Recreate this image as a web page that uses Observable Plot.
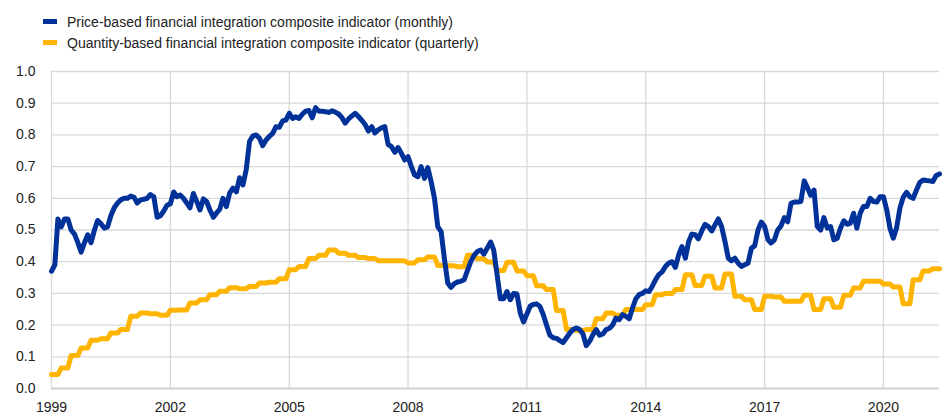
<!DOCTYPE html>
<html><head><meta charset="utf-8">
<script src="https://cdn.jsdelivr.net/npm/d3@7"></script>
<script src="https://cdn.jsdelivr.net/npm/@observablehq/plot@0.6"></script>
<style>
body{margin:0;background:#fff;font-family:Arial,"Liberation Sans",sans-serif;}
#legend{height:58px;box-sizing:border-box;padding-top:11px;padding-left:43px;font-size:14px;color:#222;}
.item{display:flex;align-items:center;height:21px;}
.sw{width:14px;height:5px;margin-right:10px;}
</style></head><body>
<div id="legend"></div><div id="chart"></div>
<script>
// Series names
const seriesNames = [
  "Price-based financial integration composite indicator (monthly)",
  "Quantity-based financial integration composite indicator (quarterly)"
];
const seriesColors = ["#003299", "#FFB400"];

// Price-based indicator, monthly, Jan 1999 - Jun 2021
const priceMonthly = [
  // 1999
  0.37, 0.39, 0.535, 0.51, 0.535, 0.535, 0.50, 0.487, 0.46, 0.43, 0.46, 0.485,
  // 2000
  0.46, 0.50, 0.53, 0.52, 0.506, 0.51, 0.545, 0.57, 0.585, 0.595, 0.60, 0.60,
  // 2001
  0.607, 0.603, 0.585, 0.595, 0.597, 0.60, 0.612, 0.605, 0.54, 0.545, 0.56, 0.578,
  // 2002
  0.583, 0.62, 0.605, 0.61, 0.60, 0.585, 0.57, 0.615, 0.59, 0.563, 0.598, 0.59,
  // 2003
  0.563, 0.54, 0.553, 0.565, 0.60, 0.574, 0.616, 0.632, 0.62, 0.665, 0.642, 0.69,
  // 2004
  0.78, 0.797, 0.80, 0.79, 0.766, 0.784, 0.795, 0.805, 0.826, 0.824, 0.844, 0.847,
  // 2005
  0.868, 0.852, 0.857, 0.852, 0.865, 0.875, 0.877, 0.854, 0.886, 0.875, 0.875, 0.873,
  // 2006
  0.871, 0.876, 0.872, 0.866, 0.855, 0.837, 0.85, 0.86, 0.868, 0.858, 0.846, 0.833,
  // 2007
  0.812, 0.826, 0.806, 0.816, 0.822, 0.826, 0.77, 0.763, 0.745, 0.76, 0.742, 0.721,
  // 2008
  0.731, 0.70, 0.674, 0.668, 0.70, 0.663, 0.697, 0.653, 0.60, 0.511, 0.495, 0.411,
  // 2009
  0.333, 0.319, 0.33, 0.336, 0.338, 0.343, 0.371, 0.40, 0.42, 0.432, 0.437, 0.424,
  // 2010
  0.443, 0.462, 0.437, 0.36, 0.283, 0.283, 0.306, 0.28, 0.30, 0.298, 0.238, 0.21,
  // 2011
  0.235, 0.26, 0.265, 0.267, 0.259, 0.233, 0.20, 0.168, 0.16, 0.158, 0.151, 0.145,
  // 2012
  0.16, 0.175, 0.186, 0.191, 0.186, 0.172, 0.135, 0.149, 0.17, 0.186, 0.168, 0.172,
  // 2013
  0.186, 0.19, 0.20, 0.222, 0.217, 0.233, 0.228, 0.22, 0.254, 0.283, 0.296, 0.30,
  // 2014
  0.308, 0.306, 0.322, 0.343, 0.359, 0.368, 0.385, 0.396, 0.40, 0.382, 0.422, 0.448,
  // 2015
  0.411, 0.464, 0.487, 0.485, 0.472, 0.497, 0.518, 0.511, 0.497, 0.516, 0.535, 0.511,
  // 2016
  0.464, 0.411, 0.403, 0.411, 0.396, 0.385, 0.39, 0.396, 0.443, 0.45, 0.50, 0.525,
  // 2017
  0.511, 0.469, 0.459, 0.469, 0.50, 0.513, 0.539, 0.526, 0.584, 0.588, 0.588, 0.59,
  // 2018
  0.655, 0.632, 0.61, 0.626, 0.511, 0.50, 0.539, 0.506, 0.511, 0.469, 0.474, 0.506,
  // 2019
  0.529, 0.518, 0.521, 0.553, 0.506, 0.553, 0.574, 0.574, 0.60, 0.59, 0.588, 0.605,
  // 2020
  0.605, 0.563, 0.506, 0.474, 0.506, 0.569, 0.603, 0.619, 0.605, 0.60, 0.626, 0.65,
  // 2021
  0.658, 0.656, 0.655, 0.653, 0.672, 0.677
];

// Quantity-based indicator, quarterly, 1999Q1 - 2021Q2
const quantityQuarterly = [
  0.044, 0.065, 0.104, 0.128,  // 1999
  0.152, 0.157, 0.175, 0.186,  // 2000
  0.228, 0.238, 0.236, 0.231,  // 2001
  0.247, 0.248, 0.27, 0.28,    // 2002
  0.296, 0.307, 0.318, 0.315,  // 2003
  0.322, 0.333, 0.335, 0.346,  // 2004
  0.375, 0.385, 0.41, 0.42,    // 2005
  0.437, 0.427, 0.42, 0.413,   // 2006
  0.41, 0.403, 0.403, 0.403,   // 2007
  0.396, 0.406, 0.415, 0.388,  // 2008
  0.387, 0.384, 0.42, 0.409,   // 2009
  0.399, 0.372, 0.398, 0.371,  // 2010
  0.356, 0.324, 0.312, 0.246,  // 2011
  0.186, 0.183, 0.186, 0.22,   // 2012
  0.238, 0.231, 0.249, 0.249,  // 2013
  0.264, 0.296, 0.30, 0.312,   // 2014
  0.359, 0.325, 0.354, 0.317,  // 2015
  0.361, 0.291, 0.28, 0.249,   // 2016
  0.291, 0.289, 0.275, 0.275,  // 2017
  0.294, 0.249, 0.283, 0.256,  // 2018
  0.294, 0.317, 0.338, 0.338,  // 2019
  0.33, 0.32, 0.267, 0.343,    // 2020
  0.371, 0.378                 // 2021
];

// Tick labels
const xTickYears = [1999, 2002, 2005, 2008, 2011, 2014, 2017, 2020];
const yTickValues = [0, 0.1, 0.2, 0.3, 0.4, 0.5, 0.6, 0.7, 0.8, 0.9, 1.0];

// Build tables
const price = priceMonthly.map((v, i) => ({date: new Date(Date.UTC(1999, i, 1)), value: v}));
const quantity = quantityQuarterly.flatMap((v, q) =>
  [0, 1, 2].map(k => ({date: new Date(Date.UTC(1999, q * 3 + k, 1)), value: v})));
const xTicks = xTickYears.map(y => new Date(Date.UTC(y, 0, 1)));

// Legend
const legend = document.getElementById("legend");
seriesNames.forEach((name, i) => {
  const row = document.createElement("div");
  row.className = "item";
  const sw = document.createElement("span");
  sw.className = "sw";
  sw.style.background = seriesColors[i];
  const t = document.createElement("span");
  t.textContent = name;
  row.appendChild(sw); row.appendChild(t);
  legend.appendChild(row);
});

const chart = Plot.plot({
  width: 942,
  height: 356,
  marginTop: 13,
  marginBottom: 26,
  marginLeft: 51,
  marginRight: 3,
  style: {fontFamily: 'Arial, "Liberation Sans", sans-serif', fontSize: "14px", color: "#222", background: "#fff", overflow: "visible"},
  x: {type: "utc", domain: [new Date(Date.UTC(1999, 0, 1)), new Date(Date.UTC(2021, 5, 1))], label: null},
  y: {domain: [0, 1], label: null},
  marks: [
    Plot.gridY(yTickValues, {stroke: "#d9d9d9", strokeOpacity: 1, strokeWidth: 1.3}),
    Plot.gridX(xTicks, {stroke: "#d9d9d9", strokeOpacity: 1, strokeWidth: 1.3}),
    Plot.ruleY([0], {stroke: "#d4d4d4", strokeWidth: 2}),
    Plot.axisX(xTicks, {tickFormat: "%Y", tickSize: 0, tickPadding: 14, fill: "#222", fontSize: 14}),
    Plot.axisY(yTickValues, {tickFormat: ".1f", tickSize: 0, tickPadding: 16, fill: "#222", fontSize: 14}),
    Plot.line(quantity, {x: "date", y: "value", stroke: seriesColors[1], strokeWidth: 5}),
    Plot.line(price, {x: "date", y: "value", stroke: seriesColors[0], strokeWidth: 5})
  ]
});
document.getElementById("chart").appendChild(chart);
</script></body></html>
